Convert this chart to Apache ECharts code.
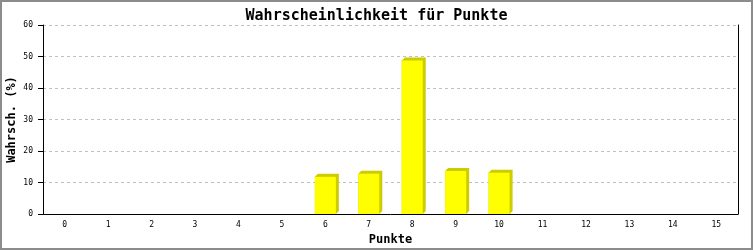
<!DOCTYPE html>
<html>
<head>
<meta charset="utf-8">
<script src="https://cdn.jsdelivr.net/npm/echarts@6/dist/echarts.min.js"></script>
<style>
html,body{margin:0;padding:0;background:#fff;}
#c{width:753px;height:250px;}
</style>
</head>
<body>
<div id="c"></div>
<script>
var categories = ['0','1','2','3','4','5','6','7','8','9','10','11','12','13','14','15'];
var values = [0,0,0,0,0,0,11.8,12.8,48.7,13.65,13.1,0,0,0,0,0];
var yTicks = [0,10,20,30,40,50,60];
var titleText = 'Wahrscheinlichkeit für Punkte';
var xName = 'Punkte';
var yName = 'Wahrsch. (%)';

var mono = 'DejaVu Sans Mono';
var chart = echarts.init(document.getElementById('c'), null, {renderer:'canvas'});
chart.setOption({
  animation:false,
  backgroundColor:'#ffffff',
  title:{
    text:titleText, left:'center', top:4,
    textStyle:{fontFamily:mono, fontSize:15, fontWeight:'bold', color:'#000'}
  },
  graphic:[{
    type:'rect', silent:true, z:100,
    shape:{x:1,y:1,width:751,height:248},
    style:{fill:null, stroke:'#8c8c8c', lineWidth:2}
  }],
  grid:{left:43, right:15, top:25, bottom:36, containLabel:false, outerBoundsMode:'none'},
  xAxis:{
    type:'category', data:categories, boundaryGap:true,
    name:xName, nameLocation:'middle', nameGap:20,
    nameTextStyle:{fontFamily:mono, fontSize:12, fontWeight:'bold', color:'#000'},
    axisLine:{lineStyle:{color:'#000', width:1}},
    axisTick:{show:false},
    axisLabel:{fontFamily:mono, fontSize:8, color:'#000', margin:7, interval:0},
    splitLine:{show:false}
  },
  yAxis:[{
    type:'value', min:yTicks[0], max:yTicks[yTicks.length-1], interval:10,
    name:yName, nameLocation:'middle', nameGap:25, nameRotate:90, nameMoveOverlap:false,
    nameTextStyle:{fontFamily:mono, fontSize:12, fontWeight:'bold', color:'#000'},
    axisLine:{show:true, lineStyle:{color:'#000', width:1}},
    axisTick:{show:true, length:5, lineStyle:{color:'#000'}},
    axisLabel:{fontFamily:mono, fontSize:8, color:'#000', margin:10},
    splitLine:{show:true, lineStyle:{color:'#c0c0c0', type:[3,3], width:1}}
  },{
    type:'value', min:yTicks[0], max:yTicks[yTicks.length-1], interval:10, position:'right',
    axisLine:{show:true, lineStyle:{color:'#000', width:1}},
    axisTick:{show:false}, axisLabel:{show:false}, splitLine:{show:false}
  }],
  series:[{
    type:'custom',
    data:values.map(function(v,i){return [i,v];}),
    renderItem:function(params, api){
      var v = api.value(1);
      if (!v) return null;
      var top = api.coord([api.value(0), v]);
      var base = api.coord([api.value(0), 0]);
      var w = 21, d = 3;
      var x = top[0] - w/2;
      var t = top[1], b = base[1];
      return {
        type:'group',
        children:[{
          type:'polygon',
          shape:{points:[[x,t],[x+d,t-d],[x+w+d,t-d],[x+w+d,b-d],[x+w,b],[x,b]]},
          style:{fill:'#cccc00'}
        },{
          type:'rect',
          shape:{x:x, y:t, width:w, height:b-t},
          style:{fill:'#ffff00'}
        }]
      };
    }
  }]
});
</script>
</body>
</html>
